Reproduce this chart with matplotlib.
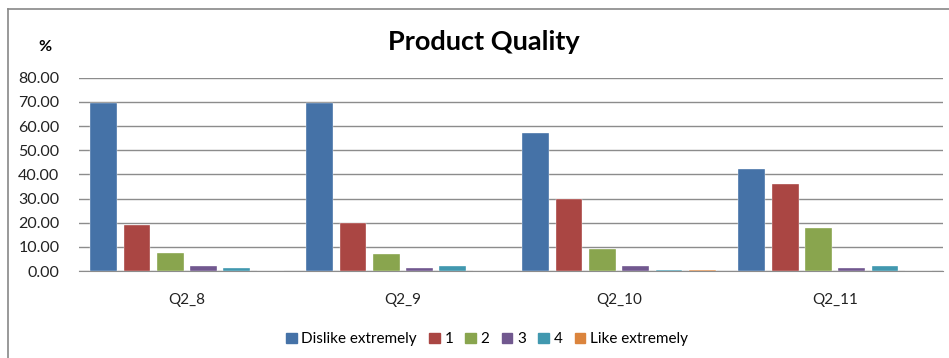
import numpy as np
import matplotlib
matplotlib.use("Agg")
import matplotlib.pyplot as plt
from matplotlib.lines import Line2D

plt.rcParams["font.family"] = ["Lato", "DejaVu Sans"]

questions = ["Q2_8", "Q2_9", "Q2_10", "Q2_11"]
series_names = ["Dislike extremely", "1", "2", "3", "4", "Like extremely"]
dislike = [69.4, 69.4, 57.1, 42.1]
s1 = [19.0, 19.9, 30.0, 36.1]
s2 = [7.6, 6.9, 9.0, 17.8]
s3 = [2.1, 1.1, 2.1, 1.1]
s4 = [1.1, 2.1, 0.6, 2.1]
like = [0.0, 0.0, 0.6, 0.0]
y_ticks = [0, 10, 20, 30, 40, 50, 60, 70, 80]

colors = ["#4572A7", "#AA4643", "#89A54E", "#71588F", "#4198AF", "#DB843D"]
series = [dislike, s1, s2, s3, s4, like]

fig = plt.figure(figsize=(9.49, 3.58), dpi=100)
ax = fig.add_axes([0.0832, 0.243, 0.9105, 0.540])

x = np.arange(len(questions))
pitch, width = 0.154, 0.124
for i, (vals, col) in enumerate(zip(series, colors)):
    ax.bar(x + (i - 2.5) * pitch, vals, width, color=col,
           edgecolor="white", linewidth=0.25, label=series_names[i], zorder=3)

ax.set_xlim(-0.5, len(questions) - 0.5)
ax.set_ylim(0, 80)
ax.set_yticks(y_ticks)
ax.set_yticklabels([f"{v:.2f}" for v in y_ticks], fontsize=11.5, color="#222222")
ax.set_xticks(x)
ax.set_xticklabels(questions, fontsize=11, color="#222222")
ax.tick_params(axis="both", length=0)
ax.tick_params(axis="y", pad=14)
ax.tick_params(axis="x", pad=16)
ax.grid(axis="y", color="#8c8c8c", linewidth=1.0, zorder=0)
for s in ["top", "right", "left"]:
    ax.spines[s].set_visible(False)
ax.spines["bottom"].set_color("#8c8c8c")

fig.text(0.510, 0.883, "Product Quality", ha="center", va="center",
         fontsize=19.5, fontweight="bold", color="black")
fig.text(0.047, 0.870, "%", ha="center", va="center", fontsize=11.5,
         fontweight="bold", color="black")

handles = [plt.Rectangle((0, 0), 1, 1, color=c) for c in colors]
fig.legend(handles, series_names, loc="center", bbox_to_anchor=(0.513, 0.052),
           ncol=6, frameon=False, fontsize=11, handlelength=0.7,
           handleheight=0.7, handletextpad=0.3, columnspacing=0.8)

# outer chart frame (left and top edges)
fig.add_artist(Line2D([7.5 / 949, 7.5 / 949], [0, 1 - 9 / 358],
                      transform=fig.transFigure, color="#888888", lw=1.2))
fig.add_artist(Line2D([7.5 / 949, 1], [1 - 9 / 358, 1 - 9 / 358],
                      transform=fig.transFigure, color="#888888", lw=1.2))

fig.savefig("out.png", dpi=100, facecolor="white")
